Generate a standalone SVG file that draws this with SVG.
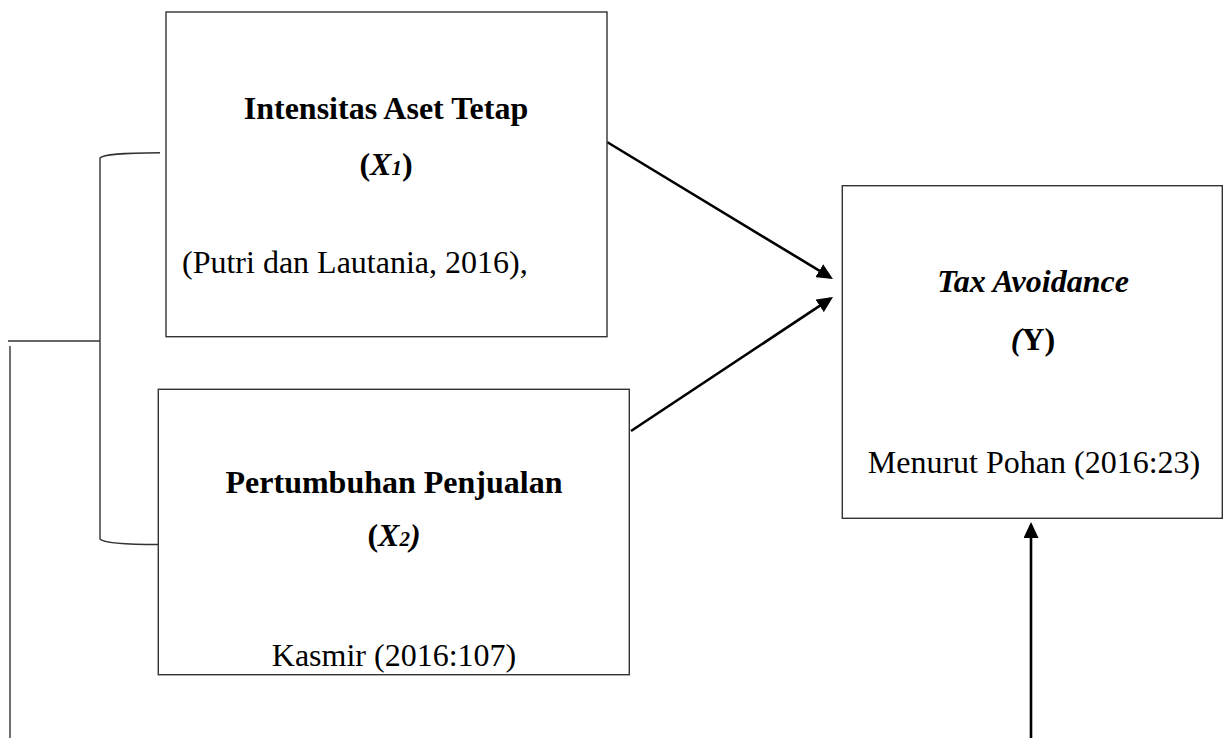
<svg xmlns="http://www.w3.org/2000/svg" width="1223" height="738" viewBox="0 0 1223 738">
<defs>
<style>
.box{fill:#fff;stroke:#333;stroke-width:1.4}
.ln{fill:none;stroke:#333;stroke-width:1.4}
.arr{fill:none;stroke:#000;stroke-width:2.6}
text{font-family:"Liberation Serif","Times New Roman",serif;font-size:32px;fill:#000}
.b{font-weight:bold}
.i{font-style:italic}
.c{text-anchor:middle}
</style>
<marker id="ah" viewBox="0 0 16 15" markerWidth="16" markerHeight="15" refX="13" refY="7.5" orient="auto" markerUnits="userSpaceOnUse">
<path d="M0,0 L16,7.5 L0,15 z" fill="#000"/>
</marker>
</defs>
<rect width="1223" height="738" fill="#fff"/>
<g id="connectors">
<path class="ln" d="M160,152.7 C122,153 103,154 100,158 L100,539 C103,543 122,544.5 160,544.5"/>
<line class="ln" x1="8" y1="341" x2="100" y2="341"/>
<line class="ln" x1="10" y1="346" x2="10" y2="738"/>
<line class="arr" x1="607" y1="142" x2="830.4" y2="277.4" marker-end="url(#ah)"/>
<line class="arr" x1="631" y1="431" x2="830.5" y2="298.7" marker-end="url(#ah)"/>
<line class="arr" x1="1031" y1="738" x2="1031" y2="525" marker-end="url(#ah)"/>
</g>
<g id="node-x1">
<rect class="box" x="166" y="12" width="441" height="324.7"/>
<text class="b c" x="386" y="119">Intensitas Aset Tetap</text>
<text class="b c" x="386" y="175">(<tspan class="i">X</tspan><tspan class="i" font-size="21">1</tspan>)</text>
<text x="182" y="273">(Putri dan Lautania, 2016),</text>
</g>
<g id="node-x2">
<rect class="box" x="158.3" y="389.3" width="471" height="285.4"/>
<text class="b c" x="394" y="493">Pertumbuhan Penjualan</text>
<text class="b c" x="394" y="546">(<tspan class="i">X</tspan><tspan class="i" font-size="21">2</tspan><tspan class="i">)</tspan></text>
<text class="c" x="394" y="666">Kasmir (2016:107)</text>
</g>
<g id="node-y">
<rect class="box" x="842.3" y="185.7" width="380" height="332.6"/>
<text class="b i c" x="1033" y="292">Tax Avoidance</text>
<text class="b c" x="1033" y="350"><tspan class="i">(</tspan>Y)</text>
<text class="c" x="1034" y="473">Menurut Pohan (2016:23)</text>
</g>
</svg>
